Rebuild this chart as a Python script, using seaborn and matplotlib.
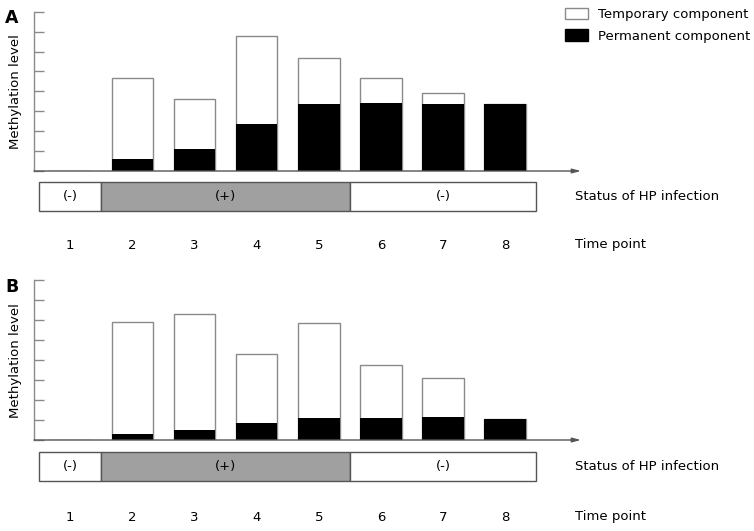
import matplotlib
matplotlib.use("Agg")
import matplotlib.pyplot as plt
from matplotlib.patches import Patch
import seaborn as sns
import pandas as pd

# ---------------- data ----------------
time_points = [1, 2, 3, 4, 5, 6, 7, 8]
# Panel A
a_total = [0, 4.66, 3.60, 6.78, 5.69, 4.66, 3.90, 3.35]
a_permanent = [0, 0.59, 1.12, 2.38, 3.35, 3.40, 3.35, 3.35]
# Panel B
b_total = [0, 5.93, 6.33, 4.29, 5.88, 3.77, 3.09, 1.05]
b_permanent = [0, 0.30, 0.49, 0.84, 1.12, 1.12, 1.15, 1.05]

status_labels = ["(-)", "(+)", "(-)"]
status_start = [0.5, 1.5, 5.5]
status_end = [1.5, 5.5, 8.5]
status_positive = [False, True, False]

panel_letters = ["A", "B"]
ylabel_text = "Methylation level"
status_title = "Status of HP infection"
time_title = "Time point"
legend_labels = ["Temporary component", "Permanent component"]

# ---------------- style ----------------
sns.set_style("white")
plt.rcParams["font.family"] = ["DejaVu Sans"]
plt.rcParams["text.color"] = "black"
plt.rcParams["axes.labelcolor"] = "black"
plt.rcParams["xtick.color"] = "black"
plt.rcParams["ytick.color"] = "black"
FS = 9.5
AXC = "#8a8a8a"
GRAY_FILL = "#a0a0a0"

W, H = 754, 531
fig = plt.figure(figsize=(W / 100, H / 100), dpi=100)

def fx(px):
    return px / W

def fy(py):
    return 1 - py / H

XL = (0.416, 9.22)

def draw_panel(letter, total, permanent, top_px, base_px, strip_top, strip_bot, time_y):
    ax = fig.add_axes([fx(34), fy(base_px), fx(581) - fx(34), (base_px - top_px) / H])
    df = pd.DataFrame({"time": time_points, "total": total, "permanent": permanent})
    sns.barplot(data=df, x="time", y="total", native_scale=True, width=0.67,
                color="white", saturation=1, edgecolor=AXC, linewidth=1,
                errorbar=None, ax=ax)
    sns.barplot(data=df, x="time", y="permanent", native_scale=True, width=0.67,
                color="black", saturation=1, linewidth=0,
                errorbar=None, ax=ax)
    ax.set_xlim(*XL)
    ax.set_ylim(0, 8)
    ax.set_xticks([])
    ax.set_yticks(range(0, 9))
    ax.set_yticklabels([])
    ax.tick_params(axis="y", direction="in", length=7, width=1, color=AXC, left=True)
    ax.set_xlabel("")
    ax.set_ylabel(ylabel_text, fontsize=FS, labelpad=5)
    for s in ["top", "right", "bottom"]:
        ax.spines[s].set_visible(False)
    ax.spines["left"].set_color(AXC)
    ax.spines["left"].set_linewidth(1)
    ax.annotate("", xy=(1.0, 0), xytext=(0, 0), xycoords="axes fraction",
                arrowprops=dict(arrowstyle="-|>,head_length=0.5,head_width=0.13",
                                color="#555555", lw=1, shrinkA=0, shrinkB=0))
    ax.patch.set_alpha(0)

    fig.text(fx(12), fy(top_px + 6.5), letter, fontsize=12.5, fontweight="bold",
             ha="center", va="center")

    # status strip
    axs = fig.add_axes([fx(34), fy(strip_bot), fx(581) - fx(34), (strip_bot - strip_top) / H])
    widths = [e - s for s, e in zip(status_start, status_end)]
    colors = [GRAY_FILL if p else "white" for p in status_positive]
    bars = axs.barh([0, 0, 0], widths, left=status_start, height=1, color=colors,
                    edgecolor="#555555", linewidth=1)
    for b in bars:
        b.set_clip_on(False)
    for s, e, lab in zip(status_start, status_end, status_labels):
        axs.text((s + e) / 2, 0, lab, ha="center", va="center", fontsize=FS)
    axs.set_xlim(*XL)
    axs.set_ylim(-0.5, 0.5)
    axs.set_yticks([])
    axs.set_xticks(time_points)
    axs.set_xticklabels([str(t) for t in time_points], fontsize=FS)
    axs.tick_params(axis="x", length=0, pad=(time_y - strip_bot - 6) * 0.72)
    for s in axs.spines.values():
        s.set_visible(False)
    axs.patch.set_alpha(0)

    fig.text(fx(575), fy((strip_top + strip_bot) / 2), status_title, fontsize=FS,
             ha="left", va="center")
    fig.text(fx(575), fy(time_y), time_title, fontsize=FS, ha="left", va="center")
    return ax

axA = draw_panel("A", a_total, a_permanent, 11.7, 171, 181.7, 211, 245)
axB = draw_panel("B", b_total, b_permanent, 280.3, 440, 451.7, 481, 516.7)

handles = [Patch(facecolor="white", edgecolor=AXC, linewidth=1),
           Patch(facecolor="black", edgecolor="black", linewidth=1)]
fig.legend(handles, legend_labels, loc="upper left",
           bbox_to_anchor=(fx(562), fy(5)), frameon=False, fontsize=FS,
           handlelength=1.75, handleheight=0.95, handletextpad=0.75, labelspacing=0.65,
           borderaxespad=0, borderpad=0.2)

fig.savefig("out.png", dpi=100)
